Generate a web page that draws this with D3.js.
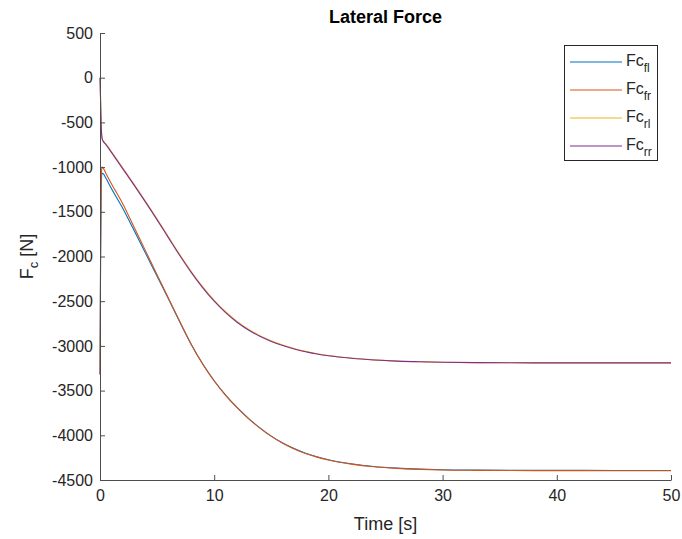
<!DOCTYPE html>
<html>
<head>
<meta charset="utf-8">
<script src="https://cdn.jsdelivr.net/npm/d3@7"></script>
<style>
  html, body { margin: 0; padding: 0; background: #fff; }
  svg { display: block; font-family: "Liberation Sans", Arial, Helvetica, sans-serif; }
</style>
</head>
<body>
<svg id="chart" width="682" height="539"></svg>
<script>
// Simulation time samples [s]
const time = [0, 0.05, 0.1, 0.15, 0.2, 0.3, 0.5, 1, 2, 3, 4, 5, 6, 7, 8, 9, 10, 11, 12, 13, 14, 15, 16, 17, 18, 19, 20, 22, 24, 26, 28, 30, 33, 36, 40, 45, 50];

// Lateral (cornering) force per wheel [N]
const fcFl = [-3320, -2050, -1280, -1090, -1068, -1075, -1120, -1240, -1462, -1712, -1966, -2222, -2476, -2736, -2986, -3203, -3390, -3550, -3688, -3810, -3917, -4009, -4086, -4149, -4200, -4241, -4274, -4319, -4349, -4367, -4378, -4385, -4389, -4391, -4392, -4393, -4393];
const fcFr = [-3320, -2000, -1200, -1020, -1000, -1015, -1065, -1185, -1412, -1675, -1940, -2205, -2468, -2730, -2985, -3205, -3393, -3553, -3691, -3813, -3920, -4012, -4089, -4152, -4203, -4244, -4277, -4322, -4352, -4370, -4381, -4388, -4392, -4394, -4395, -4396, -4396];
const fcRl = [0, -250, -515, -640, -685, -710, -738, -826, -1010, -1195, -1385, -1580, -1782, -1982, -2170, -2340, -2490, -2618, -2725, -2813, -2885, -2943, -2990, -3029, -3061, -3087, -3107, -3136, -3156, -3169, -3177, -3183, -3187, -3189, -3190, -3190, -3190];
const fcRr = [0, -250, -520, -645, -690, -715, -745, -835, -1020, -1205, -1395, -1590, -1792, -1992, -2180, -2350, -2500, -2628, -2735, -2822, -2893, -2950, -2996, -3034, -3065, -3090, -3110, -3138, -3157, -3170, -3178, -3183, -3187, -3189, -3190, -3190, -3190];

const seriesNames = ["fl", "fr", "rl", "rr"];
const seriesValues = [fcFl, fcFr, fcRl, fcRr];
const seriesColors = ["#0072BD", "#D95319", "#EDB120", "#7E2F8E"];

const xTicks = [0, 10, 20, 30, 40, 50];
const yTicks = [500, 0, -500, -1000, -1500, -2000, -2500, -3000, -3500, -4000, -4500];

const svg = d3.select("#chart");
const plot = { left: 100, right: 671, top: 33, bottom: 480 };
const axisColor = "#4d4d4d";
const textColor = "#262626";

const x = d3.scaleLinear().domain([0, 50]).range([plot.left, plot.right]);
const y = d3.scaleLinear().domain([-4500, 500]).range([plot.bottom, plot.top]);

// Data lines
const line = d3.line()
  .x((d, i) => x(time[i]))
  .y(d => y(d))
  .curve(d3.curveMonotoneX);

const linesG = svg.append("g");
seriesValues.forEach((vals, k) => {
  linesG.append("path")
    .datum(vals)
    .attr("d", line)
    .attr("fill", "none")
    .attr("stroke", seriesColors[k])
    .attr("stroke-width", 1.1);
});

// Axes with inward ticks, plain hyphen-minus labels
const plain = d => String(d);
const xAxis = d3.axisBottom(x).tickValues(xTicks).tickFormat(plain).tickSizeInner(-5).tickSizeOuter(0).tickPadding(10);
const yAxis = d3.axisLeft(y).tickValues(yTicks).tickFormat(plain).tickSizeInner(-5).tickSizeOuter(0).tickPadding(7);

const gx = svg.append("g").attr("transform", `translate(0,${plot.bottom})`).call(xAxis);
const gy = svg.append("g").attr("transform", `translate(${plot.left},0)`).call(yAxis);

[gx, gy].forEach(g => {
  g.select(".domain").attr("stroke", axisColor).attr("stroke-width", 1);
  g.selectAll(".tick line").attr("stroke", axisColor).attr("stroke-width", 1);
  g.selectAll(".tick text")
    .attr("fill", textColor)
    .attr("font-size", 16)
    .attr("font-family", "'Liberation Sans', Arial, sans-serif");
});
gx.selectAll(".tick text").attr("dy", "0.71em");

// Title
svg.append("text")
  .attr("x", (plot.left + plot.right) / 2)
  .attr("y", 23)
  .attr("text-anchor", "middle")
  .attr("font-size", 18)
  .attr("font-weight", "bold")
  .attr("fill", "#000")
  .text("Lateral Force");

// X label
svg.append("text")
  .attr("x", (plot.left + plot.right) / 2)
  .attr("y", 530)
  .attr("text-anchor", "middle")
  .attr("font-size", 18)
  .attr("fill", textColor)
  .text("Time [s]");

// Y label with subscript
const yl = svg.append("text")
  .attr("transform", `translate(33,${(plot.top + plot.bottom) / 2}) rotate(-90)`)
  .attr("text-anchor", "middle")
  .attr("font-size", 18)
  .attr("fill", textColor);
yl.append("tspan").text("F");
yl.append("tspan").attr("font-size", 13).attr("dy", 5).text("c");
yl.append("tspan").attr("dy", -5).text(" [N]");

// Legend
const legend = svg.append("g");
legend.append("rect")
  .attr("x", 564.5).attr("y", 45.5)
  .attr("width", 93).attr("height", 115)
  .attr("fill", "#fff")
  .attr("stroke", "#262626")
  .attr("stroke-width", 1);

seriesNames.forEach((name, k) => {
  const ly = 62 + k * 28;
  legend.append("line")
    .attr("x1", 570).attr("x2", 622)
    .attr("y1", ly).attr("y2", ly)
    .attr("stroke", seriesColors[k])
    .attr("stroke-width", 1.1);
  const t = legend.append("text")
    .attr("x", 626).attr("y", ly + 4)
    .attr("font-size", 16)
    .attr("fill", textColor);
  t.append("tspan").text("Fc");
  t.append("tspan").attr("font-size", 12).attr("dy", 6).text(name);
});
</script>
</body>
</html>
